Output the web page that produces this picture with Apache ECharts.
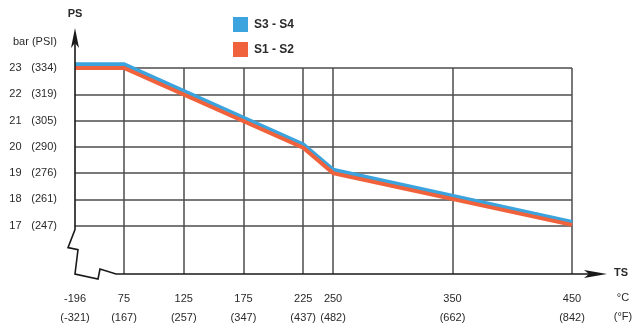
<!DOCTYPE html>
<html><head><meta charset="utf-8">
<script src="https://cdn.jsdelivr.net/npm/echarts@6/dist/echarts.min.js"></script>
<style>html,body{margin:0;padding:0;background:#fff}#c{width:632px;height:332px}</style>
</head><body><div id="c"></div>
<script>
// ---- data ----
const seriesNames = ['S3 - S4', 'S1 - S2'];
const tempC = [-196, 75, 225, 250, 450];
const psS3S4 = [23.13, 23.13, 20.08, 19.12, 17.13];
const psS1S2 = [23.0, 23.0, 19.97, 19.0, 17.03];
const tickC = [-196, 75, 125, 175, 225, 250, 350, 450];
const tickF = [-321, 167, 257, 347, 437, 482, 662, 842];
const barTicks = [17, 18, 19, 20, 21, 22, 23];
const psiTicks = [247, 261, 276, 290, 305, 319, 334];

// broken temperature axis: -196 °C is drawn at a stand-in position
const BREAK_POS = 34;
const toAxis = t => (t < 75 ? BREAK_POS : t);
const Y_MIN = 15.16;

const FONT = '"Liberation Sans", Arial, Helvetica, sans-serif';
const TXT = '#2a2a2a';
const GRIDC = '#4d4d4d';
const AXC = '#1a1a1a';
const BLUE = '#3ba3dd';
const ORANGE = '#f0623b';

const tickPos = tickC.map(toAxis);
const gridTickPos = tickPos.filter((v, i) => tickC[i] >= 75);

const chart = echarts.init(document.getElementById('c'), null, { renderer: 'canvas' });
const option = {
  animation: false,
  backgroundColor: '#fff',
  textStyle: { fontFamily: FONT },
  legend: {
    orient: 'vertical', left: 228, top: 12,
    itemWidth: 15, itemHeight: 15, itemGap: 10,
    icon: 'rect',
    data: seriesNames,
    textStyle: { fontFamily: FONT, fontSize: 12, fontWeight: 'bold', color: TXT, padding: [0, 0, 0, 1] }
  },
  grid: { left: 75, right: 60, top: 68, bottom: 58, containLabel: false },
  xAxis: {
    type: 'value', min: BREAK_POS, max: 450,
    axisLine: { show: false },
    axisTick: { show: false, customValues: gridTickPos },
    splitLine: { show: true, lineStyle: { color: GRIDC, width: 1.5 } },
    axisLabel: {
      customValues: tickPos, margin: 15,
      fontFamily: FONT, fontSize: 11, color: TXT, lineHeight: 19,
      formatter: v => {
        const i = tickPos.findIndex(p => Math.abs(p - v) < 1e-6);
        return i < 0 ? '' : tickC[i] + '\n(' + tickF[i] + ')';
      }
    }
  },
  yAxis: {
    type: 'value', min: Y_MIN, max: 23,
    axisLine: { show: false },
    axisTick: { show: false, customValues: barTicks },
    splitLine: { show: true, lineStyle: { color: GRIDC, width: 1.5 } },
    axisLabel: {
      customValues: barTicks, margin: 18,
      fontFamily: FONT, fontSize: 11, color: TXT,
      formatter: v => {
        const i = barTicks.indexOf(Math.round(v));
        return '{n|' + barTicks[i] + '}{p|(' + psiTicks[i] + ')}';
      },
      rich: {
        n: { width: 22, align: 'left', fontFamily: FONT, fontSize: 11, color: TXT },
        p: { fontFamily: FONT, fontSize: 11, color: TXT }
      }
    }
  },
  series: [
    {
      name: seriesNames[0], type: 'line', clip: false, showSymbol: false,
      data: tempC.map((t, i) => [toAxis(t), psS3S4[i]]),
      lineStyle: { color: BLUE, width: 4.5, join: 'miter' }, itemStyle: { color: BLUE }, z: 3
    },
    {
      name: seriesNames[1], type: 'line', clip: false, showSymbol: false,
      data: tempC.map((t, i) => [toAxis(t), psS1S2[i]]),
      lineStyle: { color: ORANGE, width: 4, join: 'miter' }, itemStyle: { color: ORANGE }, z: 4
    }
  ]
};
chart.setOption(option);

// ---- axes with arrows and break marks, placed from the chart's own scales ----
const [x0, y0] = chart.convertToPixel({ gridIndex: 0 }, [BREAK_POS, Y_MIN]);
const [x75] = chart.convertToPixel({ gridIndex: 0 }, [75, Y_MIN]);
const [x450] = chart.convertToPixel({ gridIndex: 0 }, [450, 23]);
const [, y17] = chart.convertToPixel({ gridIndex: 0 }, [BREAK_POS, 17]);
const yTip = 28, xTip = x450 + 35;

const axisPts = [
  [x0, yTip + 8],
  [x0, y17 + 4],
  [x0 - 7, y17 + 22],
  [x0 + 3, y17 + 24],
  [x0, y0],
  [x0 + 23, y0 + 5],
  [x0 + 25, y0 - 5],
  [x75 - 8, y0],
  [xTip - 8, y0]
];

chart.setOption({
  graphic: [
    { type: 'polyline', shape: { points: axisPts }, style: { stroke: AXC, lineWidth: 1.6, fill: null, lineJoin: 'miter' }, z: 10 },
    { type: 'polygon', shape: { points: [[x0, yTip], [x0 - 4, yTip + 20], [x0, yTip + 15], [x0 + 4, yTip + 20]] }, style: { fill: AXC }, z: 10 },
    { type: 'polygon', shape: { points: [[xTip, y0], [xTip - 23, y0 - 4], [xTip - 18, y0], [xTip - 23, y0 + 4]] }, style: { fill: AXC }, z: 10 },
    { type: 'text', x: x0, y: 14, style: { text: 'PS', font: 'bold 11px ' + FONT, fill: TXT, align: 'center', verticalAlign: 'middle' }, z: 10 },
    { type: 'text', x: xTip + 14, y: y0 - 1, style: { text: 'TS', font: 'bold 11px ' + FONT, fill: TXT, align: 'center', verticalAlign: 'middle' }, z: 10 },
    { type: 'text', x: 57, y: 42, style: { text: 'bar (PSI)', font: '11px ' + FONT, fill: TXT, align: 'right', verticalAlign: 'middle' }, z: 10 },
    { type: 'text', x: x450 + 51, y: y0 + 24, style: { text: '°C', font: '11px ' + FONT, fill: TXT, align: 'center', verticalAlign: 'middle' }, z: 10 },
    { type: 'text', x: x450 + 51, y: y0 + 43, style: { text: '(°F)', font: '11px ' + FONT, fill: TXT, align: 'center', verticalAlign: 'middle' }, z: 10 }
  ]
});
</script>
</body></html>
